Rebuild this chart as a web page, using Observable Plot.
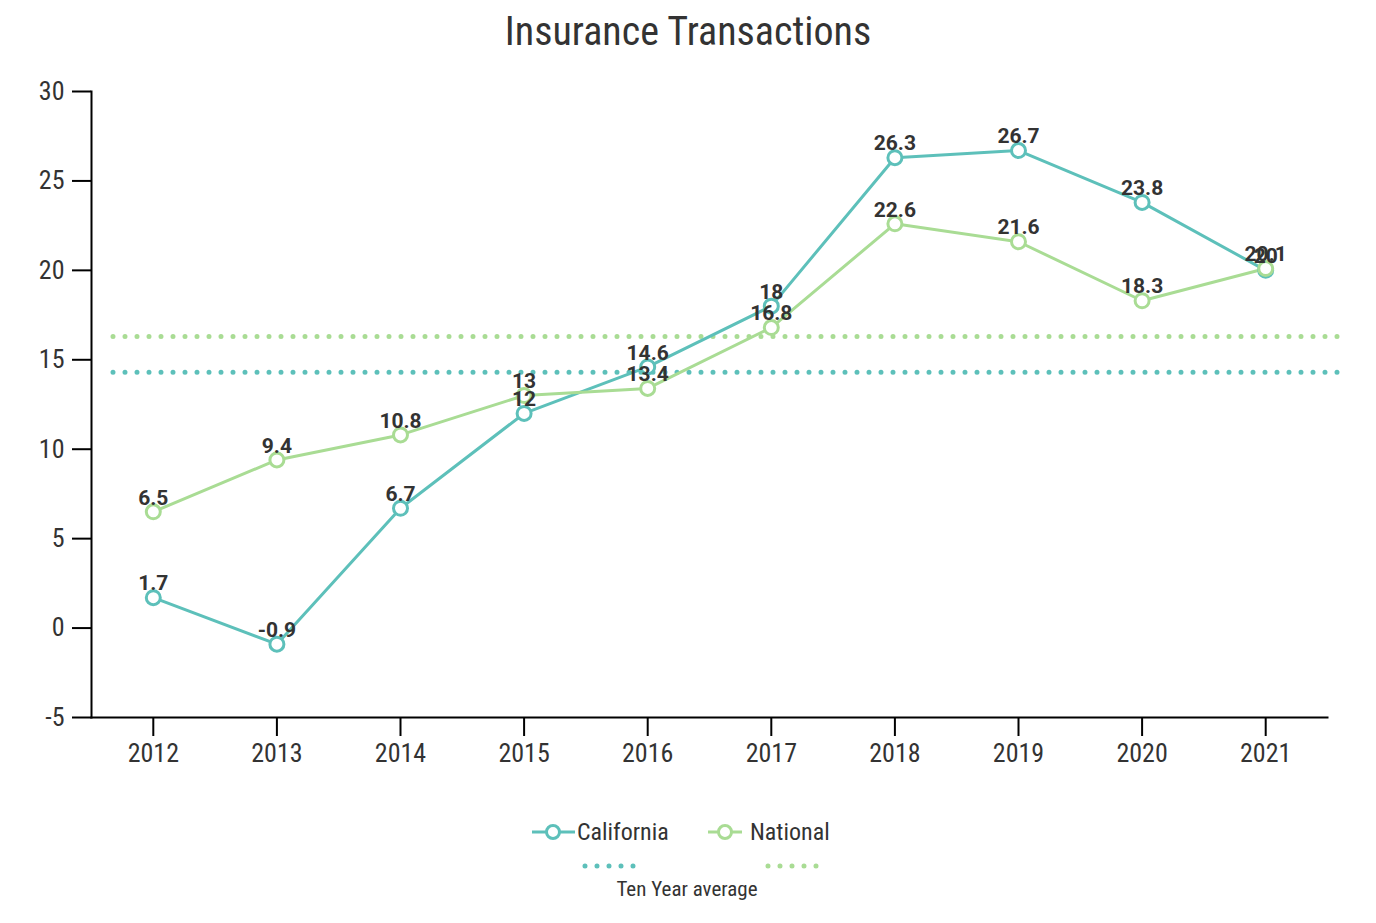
<!DOCTYPE html>
<html><head><meta charset="utf-8">
<script src="https://cdn.jsdelivr.net/npm/d3@7"></script>
<script src="https://cdn.jsdelivr.net/npm/@observablehq/plot@0.6"></script>
<style>
body{margin:0;background:#fff;}
#wrap{position:relative;width:1376px;height:923px;font-family:"Roboto Condensed","Roboto",sans-serif;color:#333;}
#title{height:64px;line-height:64px;text-align:center;font-size:40px;}
#legend{position:absolute;left:0;top:777px;}
#legend text{font-family:"Roboto Condensed","Roboto",sans-serif;fill:#333;}
</style></head><body>
<div id="wrap">
<div id="title">Insurance Transactions</div>
<div id="chart"></div>
<svg id="legend" width="1376" height="146"></svg>
</div>
<script>
const years = ["2012","2013","2014","2015","2016","2017","2018","2019","2020","2021"];
const california = [1.7,-0.9,6.7,12,14.6,18,26.3,26.7,23.8,20];
const national = [6.5,9.4,10.8,13,13.4,16.8,22.6,21.6,18.3,20.1];
const seriesNames = ["California","National"];
const seriesColors = ["#5dc0ba","#a9dc94"];
const tenYearAverage = [14.3,16.3];
const yTicks = [-5,0,5,10,15,20,25,30];
const legendNote = "Ten Year average";

const rows = [];
[california, national].forEach((vals, s) => vals.forEach((v, i) =>
  rows.push({series: seriesNames[s], year: years[i], value: v, color: seriesColors[s]})));
const avgRows = tenYearAverage.map((v, s) => ({series: seriesNames[s], value: v, color: seriesColors[s]}));

const fontFam = '"Roboto Condensed","Roboto",sans-serif';
const chart = Plot.plot({
  width: 1376, height: 713,
  marginTop: 27, marginLeft: 91, marginRight: 49, marginBottom: 60,
  style: {fontFamily: fontFam, color: "#333", background: "white"},
  x: {type: "point", domain: years, padding: 0.5, round: false, label: null},
  y: {domain: [-5, 30], label: null},
  marks: [
    Plot.ruleY(avgRows, {y: "value", stroke: "color", strokeWidth: 5, strokeDasharray: "0,12", strokeLinecap: "round", insetLeft: 22, insetRight: -12}),
    Plot.axisX({tickSize: 19, tickPadding: 7, fontSize: 26, stroke: "#000", strokeWidth: 2, fill: "#333"}),
    Plot.axisY({ticks: yTicks, tickSize: 19, tickPadding: 8, fontSize: 26, stroke: "#000", strokeWidth: 2, fill: "#333", tickFormat: d => String(d)}),
    Plot.frame({anchor: "left", stroke: "#000", strokeWidth: 2}),
    Plot.frame({anchor: "bottom", stroke: "#000", strokeWidth: 2}),
    Plot.line(rows, {x: "year", y: "value", z: "series", stroke: "color", strokeWidth: 3}),
    Plot.dot(rows, {x: "year", y: "value", r: 7, fill: "white", stroke: "color", strokeWidth: 3}),
    Plot.text(rows, {x: "year", y: "value", text: d => String(d.value), dy: -14, fontSize: 21, fontWeight: "bold", fontFamily: "Roboto, sans-serif", fill: "#333"})
  ]
});
document.getElementById("chart").appendChild(chart);

// legend
const lg = d3.select("#legend");
const items = [{x0: 532, x1: 575, cx: 553, tx: 577, dots: [585,634]}, {x0: 708, x1: 742, cx: 725, tx: 750, dots: [768,817]}];
items.forEach((it, s) => {
  lg.append("line").attr("x1", it.x0).attr("x2", it.x1).attr("y1", 55).attr("y2", 55)
    .attr("stroke", seriesColors[s]).attr("stroke-width", 3);
  lg.append("circle").attr("cx", it.cx).attr("cy", 55).attr("r", 6.5).attr("fill", "white")
    .attr("stroke", seriesColors[s]).attr("stroke-width", 3);
  lg.append("text").attr("x", it.tx).attr("y", 55).attr("dy", "0.35em").attr("font-size", 24).text(seriesNames[s]);
  lg.append("line").attr("x1", it.dots[0]).attr("x2", it.dots[1]).attr("y1", 89).attr("y2", 89)
    .attr("stroke", seriesColors[s]).attr("stroke-width", 5).attr("stroke-dasharray", "0,12").attr("stroke-linecap", "round");
});
lg.append("text").attr("x", 687).attr("y", 112).attr("dy", "0.35em").attr("text-anchor", "middle").attr("font-size", 21).text(legendNote);
</script>
</body></html>
